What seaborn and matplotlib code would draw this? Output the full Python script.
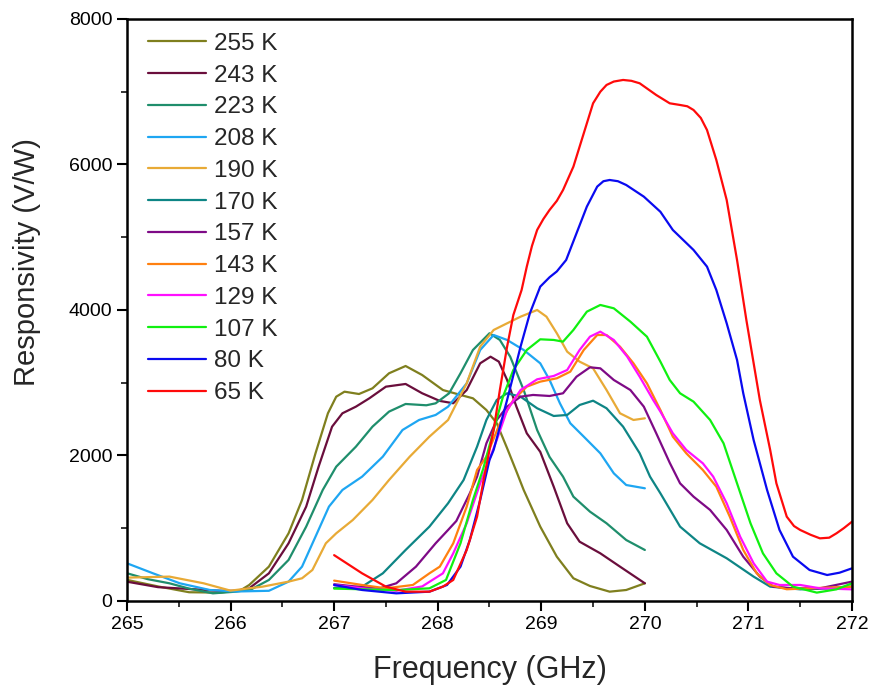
import matplotlib
matplotlib.use("Agg")
import matplotlib.pyplot as plt
from matplotlib.ticker import MultipleLocator
import seaborn as sns
import pandas as pd

labels = ["255 K", "243 K", "223 K", "208 K", "190 K", "170 K",
          "157 K", "143 K", "129 K", "107 K", "80 K", "65 K"]
colors = ["#7F7F1E", "#6A0E3C", "#1F8E6C", "#1EA6F2", "#E8AA36", "#0E8585",
          "#7E0A86", "#FF8010", "#FF10FF", "#10F010", "#0A0AF0", "#FF0A0A"]

f_255 = [265.0, 265.3, 265.6, 265.9, 266.1, 266.18, 266.37, 266.56, 266.69, 266.82, 266.94,
         267.02, 267.10, 267.24, 267.37, 267.53, 267.69, 267.85, 268.05, 268.22, 268.34,
         268.47, 268.57, 268.67, 268.76, 268.83, 268.99, 269.15, 269.31, 269.47, 269.66,
         269.82, 270.0]
r_255 = [290, 200, 120, 115, 150, 220, 472, 930, 1388, 2030, 2580, 2808, 2877, 2845, 2923,
         3130, 3230, 3106, 2900, 2832, 2786, 2625, 2443, 2100, 1780, 1526, 1022, 609, 312,
         206, 128, 151, 243]

f_243 = [265.0, 265.3, 265.6, 265.9, 266.05, 266.18, 266.37, 266.56, 266.73, 266.85, 266.98,
         267.08, 267.21, 267.34, 267.50, 267.69, 267.85, 268.02, 268.15, 268.28, 268.41,
         268.51, 268.59, 268.67, 268.76, 268.86, 268.99, 269.12, 269.25, 269.37, 269.57,
         269.76, 270.0]
r_243 = [265, 190, 165, 140, 140, 174, 380, 793, 1297, 1846, 2396, 2580, 2671, 2786, 2946,
         2983, 2855, 2750, 2718, 2900, 3267, 3358, 3290, 3038, 2671, 2305, 2050, 1571, 1068,
         815, 655, 472, 243]

f_223 = [265.0, 265.2, 265.41, 265.6, 265.83, 266.05, 266.2, 266.37, 266.56, 266.73, 266.89,
         267.02, 267.21, 267.37, 267.53, 267.69, 267.89, 267.98, 268.11, 268.22, 268.34,
         268.50, 268.60, 268.70, 268.83, 268.96, 269.08, 269.21, 269.31, 269.47, 269.63,
         269.82, 270.0]
r_223 = [381, 300, 243, 170, 105, 128, 160, 289, 564, 1022, 1526, 1846, 2121, 2396, 2603,
         2708, 2690, 2717, 2855, 3130, 3450, 3680, 3588, 3358, 2900, 2350, 1980, 1709, 1434,
         1228, 1068, 838, 701]

f_208 = [265.0, 265.25, 265.51, 265.8, 266.05, 266.37, 266.56, 266.69, 266.82, 266.95, 267.08,
         267.27, 267.47, 267.66, 267.82, 267.98, 268.10, 268.28, 268.41, 268.54, 268.67,
         268.83, 268.99, 269.08, 269.18, 269.28, 269.41, 269.57, 269.70, 269.82, 270.0]
r_208 = [518, 381, 243, 151, 130, 140, 266, 472, 884, 1297, 1526, 1709, 1984, 2350, 2488,
         2557, 2671, 2992, 3450, 3656, 3588, 3450, 3267, 3038, 2717, 2443, 2259, 2030, 1755,
         1594, 1549]

f_190 = [265.0, 265.41, 265.74, 266.0, 266.31, 266.56, 266.69, 266.79, 266.92, 267.02, 267.18,
         267.37, 267.53, 267.73, 267.92, 268.10, 268.28, 268.41, 268.54, 268.67, 268.80,
         268.96, 269.05, 269.15, 269.25, 269.37, 269.50, 269.63, 269.76, 269.89, 270.0]
r_190 = [321, 335, 243, 142, 197, 266, 312, 426, 793, 930, 1113, 1388, 1663, 1984, 2259,
         2488, 2992, 3496, 3725, 3817, 3908, 4000, 3908, 3680, 3427, 3290, 3198, 2900, 2580,
         2488, 2511]

f_170 = [267.0, 267.27, 267.47, 267.69, 267.92, 268.10, 268.25, 268.38, 268.47, 268.57,
         268.67, 268.80, 268.96, 269.12, 269.25, 269.37, 269.50, 269.63, 269.79, 269.95,
         270.05, 270.15, 270.34, 270.53, 270.79, 271.05, 271.21, 271.5, 271.75, 272.0]
r_170 = [180, 197, 380, 701, 1022, 1343, 1663, 2121, 2488, 2763, 2855, 2808, 2649, 2543,
         2557, 2694, 2753, 2649, 2396, 2030, 1709, 1480, 1022, 793, 587, 335, 197, 160, 170,
         200]

f_157 = [267.0, 267.2, 267.44, 267.60, 267.79, 267.98, 268.10, 268.18, 268.31, 268.38, 268.47,
         268.57, 268.67, 268.80, 268.92, 269.08, 269.21, 269.34, 269.47, 269.57, 269.70,
         269.86, 269.99, 270.11, 270.24, 270.34, 270.47, 270.63, 270.79, 270.95, 271.11,
         271.24, 271.43, 271.69, 272.0]
r_157 = [230, 200, 174, 243, 472, 793, 976, 1100, 1480, 1709, 2167, 2488, 2671, 2808, 2832,
         2818, 2855, 3083, 3212, 3198, 3038, 2900, 2671, 2305, 1900, 1617, 1434, 1251, 976,
         609, 335, 197, 174, 174, 266]

f_143 = [267.0, 267.27, 267.50, 267.76, 267.92, 268.02, 268.15, 268.28, 268.38, 268.47, 268.60,
         268.73, 268.86, 268.99, 269.15, 269.28, 269.41, 269.54, 269.63, 269.76, 269.89,
         270.02, 270.15, 270.27, 270.40, 270.56, 270.69, 270.82, 270.95, 271.08, 271.21,
         271.37, 271.59, 272.0]
r_143 = [280, 220, 174, 220, 380, 472, 793, 1297, 1800, 1984, 2443, 2763, 2946, 3015, 3061,
         3152, 3450, 3656, 3656, 3496, 3267, 2992, 2625, 2259, 2030, 1800, 1571, 1159, 701,
         380, 220, 161, 174, 197]

f_129 = [267.0, 267.3, 267.6, 267.85, 268.05, 268.15, 268.28, 268.41, 268.50, 268.57, 268.67,
         268.80, 268.96, 269.12, 269.25, 269.37, 269.47, 269.57, 269.70, 269.83, 269.95,
         270.08, 270.15, 270.27, 270.40, 270.56, 270.66, 270.79, 270.92, 271.05, 271.18,
         271.30, 271.50, 271.69, 272.0]
r_129 = [220, 170, 140, 200, 380, 655, 1068, 1617, 1950, 2213, 2625, 2900, 3047, 3093, 3175,
         3450, 3633, 3702, 3588, 3358, 3083, 2763, 2603, 2305, 2076, 1892, 1709, 1343, 884,
         518, 266, 220, 220, 174, 160]

f_107 = [267.0, 267.3, 267.6, 267.92, 268.08, 268.22, 268.34, 268.44, 268.54, 268.63, 268.73,
         268.86, 268.99, 269.12, 269.21, 269.31, 269.44, 269.57, 269.70, 269.86, 270.02,
         270.15, 270.24, 270.34, 270.47, 270.63, 270.76, 270.89, 271.02, 271.14, 271.27,
         271.43, 271.66, 271.85, 272.0]
r_107 = [170, 160, 150, 174, 289, 793, 1388, 1820, 2350, 2808, 3175, 3450, 3597, 3588, 3565,
         3725, 3977, 4069, 4023, 3840, 3633, 3290, 3038, 2855, 2740, 2488, 2167, 1617, 1068,
         655, 380, 197, 115, 160, 243]

f_80 = [267.0, 267.27, 267.60, 267.92, 268.09, 268.22, 268.31, 268.41, 268.50, 268.54, 268.67,
        268.80, 268.89, 268.99, 269.08, 269.15, 269.24, 269.34, 269.44, 269.54, 269.60, 269.66,
        269.74, 269.82, 269.99, 270.15, 270.27, 270.47, 270.60, 270.69, 270.79, 270.89,
        270.95, 271.05, 271.18, 271.30, 271.43, 271.59, 271.76, 271.88, 272.0]
r_80 = [220, 151, 105, 128, 220, 472, 838, 1388, 1938, 2076, 2763, 3496, 3955, 4321, 4450,
        4530, 4687, 5054, 5421, 5696, 5770, 5787, 5770, 5718, 5558, 5350, 5100, 4825, 4596,
        4275, 3817, 3313, 2855, 2213, 1526, 976, 609, 426, 357, 389, 449]

f_65 = [267.0, 267.27, 267.50, 267.69, 267.92, 268.05, 268.15, 268.28, 268.38, 268.44, 268.50,
        268.54, 268.60, 268.67, 268.73, 268.81, 268.86, 268.91, 268.96, 269.02, 269.08,
        269.15, 269.21, 269.31, 269.41, 269.50, 269.57, 269.63, 269.70, 269.79, 269.87,
        269.95, 270.11, 270.24, 270.34, 270.41, 270.47, 270.54, 270.60, 270.69, 270.79,
        270.89, 270.98, 271.11, 271.21, 271.27, 271.37, 271.44, 271.50, 271.60, 271.69,
        271.78, 271.85, 271.92, 272.0]
r_65 = [630, 380, 197, 128, 128, 197, 289, 701, 1159, 1640, 2076, 2350, 2900, 3496, 3930,
        4275, 4596, 4880, 5100, 5250, 5375, 5500, 5649, 5970, 6428, 6841, 7000, 7093, 7140,
        7162, 7150, 7116, 6955, 6841, 6818, 6800, 6749, 6640, 6474, 6062, 5512, 4687, 3863,
        2763, 2076, 1617, 1159, 1030, 976, 910, 861, 870, 930, 1000, 1090]

freqs = [f_255, f_243, f_223, f_208, f_190, f_170, f_157, f_143, f_129, f_107, f_80, f_65]
resps = [r_255, r_243, r_223, r_208, r_190, r_170, r_157, r_143, r_129, r_107, r_80, r_65]

rows = []
for lab, fs, rs in zip(labels, freqs, resps):
    for fv, rv in zip(fs, rs):
        rows.append({"Frequency": fv, "Responsivity": rv, "T": lab})
df = pd.DataFrame(rows)

sns.set_theme(style="ticks")
plt.rcParams["font.family"] = ["Liberation Sans", "DejaVu Sans"]

fig = plt.figure(figsize=(8.77, 6.98), dpi=100)
ax = fig.add_axes([0.1448, 0.139, 0.8267, 0.8338])

sns.lineplot(data=df, x="Frequency", y="Responsivity", hue="T", hue_order=labels,
             palette=dict(zip(labels, colors)), estimator=None, sort=False,
             linewidth=1.6, ax=ax)

ax.set_xlim(265, 272)
ax.set_ylim(0, 8000)
ax.xaxis.set_major_locator(MultipleLocator(1))
ax.xaxis.set_minor_locator(MultipleLocator(0.5))
ax.yaxis.set_major_locator(MultipleLocator(2000))
ax.yaxis.set_minor_locator(MultipleLocator(1000))
ax.tick_params(axis="both", which="major", direction="out", length=7, width=1.5,
               labelsize=14, colors="black", top=False, right=False)
ax.tick_params(axis="both", which="minor", direction="out", length=4, width=1.3,
               top=False, right=False)
for sp in ax.spines.values():
    sp.set_visible(True)
    sp.set_linewidth(1.8)
    sp.set_color("black")

ax.set_xlabel("Frequency (GHz)", fontsize=22, labelpad=16)
ax.set_ylabel("Responsivity (V/W)", fontsize=21)
ax.yaxis.set_label_coords(-0.118, 0.582)

ax.legend(loc="upper left", bbox_to_anchor=(0.029, 0.976), frameon=False,
          fontsize=17.5, handlelength=2.4, handletextpad=0.33, labelspacing=0.40,
          borderpad=0, borderaxespad=0)

fig.savefig("out.png", dpi=100)
